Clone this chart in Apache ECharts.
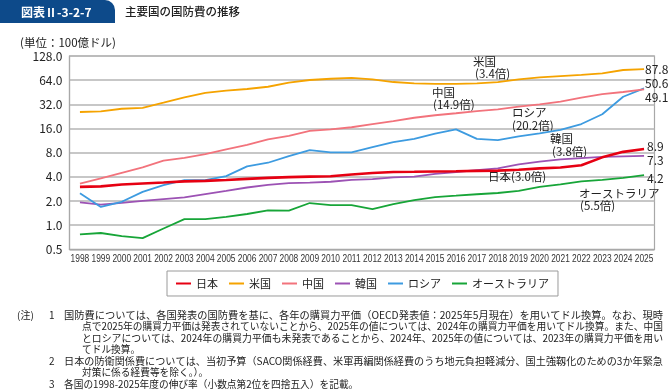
<!DOCTYPE html>
<html><head><meta charset="utf-8">
<script src="https://cdn.jsdelivr.net/npm/echarts@6/dist/echarts.min.js"></script>
<style>html,body{margin:0;padding:0;background:#fff}#c{width:669px;height:392px}</style>
</head><body><div id="c"></div>
<script>
const years = ['1998','1999','2000','2001','2002','2003','2004','2005','2006','2007','2008','2009','2010','2011','2012','2013','2014','2015','2016','2017','2018','2019','2020','2021','2022','2023','2024','2025'];
const japan = [3.0, 3.05, 3.22, 3.31, 3.40, 3.52, 3.57, 3.65, 3.78, 3.89, 3.97, 4.03, 4.08, 4.29, 4.47, 4.60, 4.63, 4.67, 4.70, 4.75, 4.78, 4.90, 5.10, 5.24, 5.58, 7.0, 8.2, 8.9];
const usa = [25.7, 26.2, 28.2, 29.0, 33.6, 39.1, 44.6, 47.3, 49.7, 53.0, 59.6, 64.3, 66.7, 68.5, 65.6, 60.7, 58.5, 57.4, 57.4, 58.5, 60.5, 65.6, 69.5, 72.0, 74.6, 77.9, 85.7, 87.8];
const china = [3.3, 3.83, 4.5, 5.24, 6.36, 6.9, 7.7, 8.8, 10.0, 11.7, 13.0, 15.0, 15.6, 16.6, 18.2, 19.8, 21.8, 23.4, 24.8, 26.4, 27.7, 29.9, 32.0, 34.5, 38.8, 43.0, 45.6, 49.1];
const korea = [1.92, 1.80, 1.90, 2.01, 2.11, 2.22, 2.44, 2.68, 2.95, 3.18, 3.34, 3.40, 3.48, 3.68, 3.75, 3.95, 4.03, 4.35, 4.60, 4.86, 5.10, 5.73, 6.20, 6.60, 6.86, 7.10, 7.20, 7.3];
const russia = [2.5, 1.69, 1.96, 2.6, 3.16, 3.65, 3.65, 4.08, 5.4, 6.0, 7.26, 8.6, 8.07, 8.07, 9.4, 10.85, 11.9, 13.8, 15.6, 11.9, 11.5, 12.8, 13.9, 15.4, 18.2, 24.1, 39.8, 50.6];
const australia = [0.77, 0.80, 0.73, 0.69, 0.91, 1.19, 1.19, 1.27, 1.38, 1.53, 1.52, 1.89, 1.78, 1.78, 1.59, 1.83, 2.06, 2.24, 2.33, 2.43, 2.52, 2.68, 3.0, 3.22, 3.52, 3.68, 3.89, 4.2];
const seriesNames = ['日本','米国','中国','韓国','ロシア','オーストラリア'];
const endLabels = ['87.8','50.6','49.1','8.9','7.3','4.2'];
const noteLines = [
  '国防費については、各国発表の国防費を基に、各年の購買力平価（OECD発表値：2025年5月現在）を用いてドル換算。なお、現時',
  '点で2025年の購買力平価は発表されていないことから、2025年の値については、2024年の購買力平価を用いてドル換算。また、中国',
  'とロシアについては、2024年の購買力平価も未発表であることから、2024年、2025年の値については、2023年の購買力平価を用い',
  'てドル換算。',
  '日本の防衛関係費については、当初予算（SACO関係経費、米軍再編関係経費のうち地元負担軽減分、国土強靱化のための3か年緊急',
  '対策に係る経費等を除く。）。',
  '各国の1998-2025年度の伸び率（小数点第2位を四捨五入）を記載。'
];

const JP = "'Noto Sans CJK JP','Noto Sans',sans-serif";
const colors = {
  '日本':'#e60012','米国':'#f5a300','中国':'#f2737c','韓国':'#9c52b4','ロシア':'#3d9be0','オーストラリア':'#17a538'
};
const dataMap = {'日本':japan,'米国':usa,'中国':china,'韓国':korea,'ロシア':russia,'オーストラリア':australia};
const drawOrder = ['オーストラリア','韓国','ロシア','中国','米国','日本'];

const series = drawOrder.map(n => ({
  name: n, type: 'line', data: dataMap[n], symbol: 'none', smooth: false,
  lineStyle: {color: colors[n], width: n === '日本' ? 2.6 : 1.8},
  itemStyle: {color: colors[n]},
  emphasis: {disabled: true}, animation: false
}));

function txt(x, y, text, opt, extra) {
  return Object.assign({type:'text', x, y, silent:true, style:Object.assign({text, fill:'#222', font:"11.5px " + JP, textVerticalAlign:'middle'}, opt||{})}, extra||{});
}

const measureCtx = document.createElement('canvas').getContext('2d');
function measure(font, s) { measureCtx.font = font; return measureCtx.measureText(s).width; }

const graphic = [
  {type:'rect', shape:{x:0,y:0,width:115,height:23,r:[0,10,0,0]}, style:{fill:'#0d4a8a'}},
  txt(21, 12, '図表Ⅱ-3-2-7', {fill:'#fff', font:"bold 12px " + JP}),
  txt(125, 12, '主要国の国防費の推移', {font:"500 11.5px " + JP}),
  txt(20, 43, '(単位：100億ドル)', {font:"11.5px " + JP}),
  txt(473, 62, '米国'), txt(475, 74, '(3.4倍)'),
  txt(432, 93, '中国'), txt(433, 105, '(14.9倍)'),
  txt(512, 113, 'ロシア'), txt(512, 126, '(20.2倍)'),
  txt(550, 139, '韓国'), txt(552, 152, '(3.8倍)'),
  txt(488, 177, '日本(3.0倍)'),
  txt(579, 194, 'オーストラリア'), txt(580, 206, '(5.5倍)'),
  txt(645, 69, endLabels[0], {font:"12px " + JP}),
  txt(645, 83, endLabels[1], {font:"12px " + JP}),
  txt(645, 97, endLabels[2], {font:"12px " + JP}),
  txt(647, 146, endLabels[3], {font:"12px " + JP}),
  txt(647, 160, endLabels[4], {font:"12px " + JP}),
  txt(647, 178, endLabels[5], {font:"12px " + JP}),
  txt(17, 315, '(注)', {font:"10px " + JP}),
];
const noteX = [64, 82, 82, 82, 64, 82, 64];
const noteNum = ['1','','','','2','','3'];
const noteFull = [true, true, true, false, true, false, false];
const noteFont = "10px " + JP;
noteLines.forEach((l, i) => {
  const y = 315 + i * 11.5;
  if (noteNum[i]) graphic.push(txt(49, y, noteNum[i], {font: noteFont}));
  const w = measure("10px 'Noto Sans CJK JP'", l);
  const sx = noteFull[i] ? (663 - noteX[i]) / w : 0.97;
  graphic.push(txt(noteX[i], y, l, {font: noteFont}, {scaleX: sx}));
});

const chart = echarts.init(document.getElementById('c'), null, {renderer:'canvas'});
chart.setOption({
  animation: false,
  backgroundColor: '#fff',
  grid: {left: 69.5, right: 14.5, top: 56, bottom: 142.6, show: true, borderColor: '#a8a8a8', borderWidth: 1.2, containLabel: false},
  xAxis: {
    type: 'category', data: years, boundaryGap: true,
    axisLine: {lineStyle: {color: '#a8a8a8', width: 1.2}},
    axisTick: {show: false},
    axisLabel: {show: false}
  },
  yAxis: {
    type: 'log', logBase: 2, min: 0.5, max: 128, interval: 1,
    axisLine: {show: true, lineStyle: {color: '#a8a8a8', width: 1.2}},
    axisTick: {show: false},
    splitLine: {lineStyle: {color: '#b5b5b5', width: 1.6}},
    axisLabel: {color: '#222', fontSize: 12, fontFamily: JP, margin: 7, formatter: v => Number(v).toFixed(1)}
  },
  legend: {
    data: seriesNames, left: 167, top: 271, orient: 'horizontal',
    icon: 'rect', itemWidth: 15, itemHeight: 2, itemGap: 11,
    padding: [7, 9], borderColor: '#9a9a9a', borderWidth: 1,
    textStyle: {fontSize: 11, color: '#222', fontFamily: JP}
  },
  series: series,
  graphic: graphic
});

// category tick labels, placed through the axis scale, horizontally condensed
const yearFont = "10.5px 'Liberation Sans',sans-serif";
const yearLabels = years.map((yr, i) => {
  const px = chart.convertToPixel({xAxisIndex: 0}, yr);
  return {type:'text', x: px, y: 259, scaleX: 0.8, silent: true,
    style:{text: yr, font: yearFont, fill:'#333', textAlign:'center', textVerticalAlign:'middle'}};
});
chart.setOption({graphic: graphic.concat(yearLabels)}, {replaceMerge: ['graphic']});
</script></body></html>
